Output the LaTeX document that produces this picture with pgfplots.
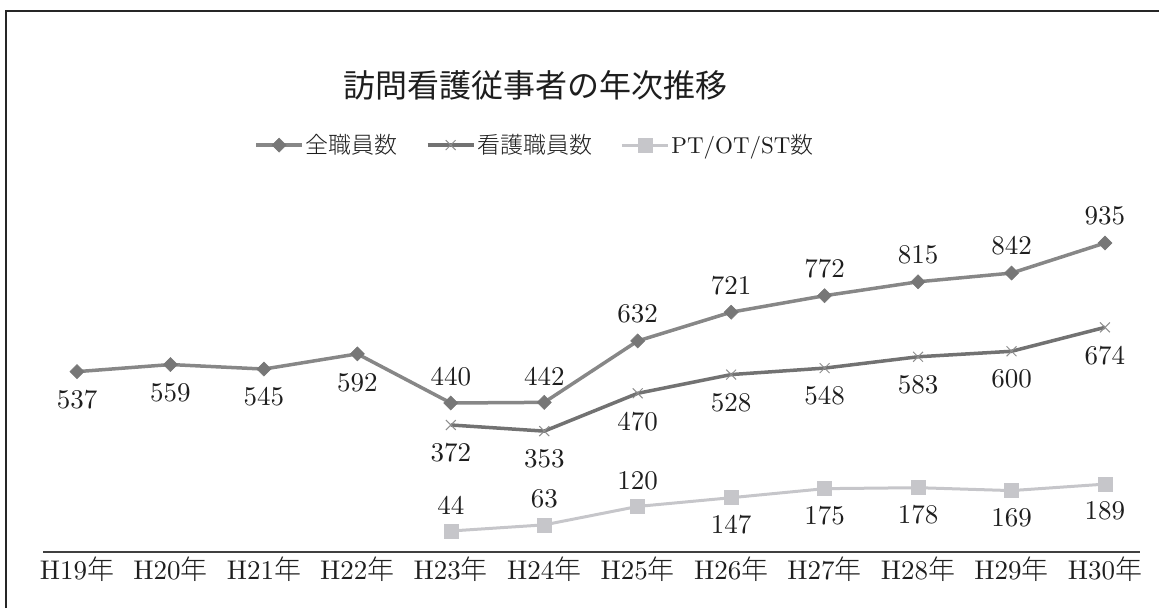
\documentclass[border=0pt]{standalone}
\usepackage{fontspec}
\setmainfont{lmroman10-regular}[Extension=.otf]
\usepackage{pgfplots}
\pgfplotsset{compat=1.18}
\usepackage{pgfplotstable}
\newfontfamily\cjk{Noto Sans CJK JP}
\newfontfamily\cjkl{Noto Sans CJK JP Light}
\definecolor{lineA}{HTML}{878787}
\definecolor{markA}{HTML}{777777}
\definecolor{lineB}{HTML}{727272}
\definecolor{markB}{HTML}{8E8E8E}
\definecolor{lineC}{HTML}{C6C6CA}
\definecolor{txt}{HTML}{1E1E1E}

\pgfplotstableread{
x y dy
0 537 -28
1 559 -28
2 545 -28
3 592 -29
4 440 26
5 442 26
6 632 27
7 721 27
8 772 27
9 815 27
10 842 27
11 935 27
}\tabAll
\pgfplotstableread{
x y dy
4 372 -28
5 353 -28
6 470 -28
7 528 -28
8 548 -28
9 583 -28
10 600 -28
11 674 -28
}\tabNurse
\pgfplotstableread{
x y dy
4 44 26
5 63 26
6 120 26
7 147 -27
8 175 -27
9 178 -27
10 169 -27
11 189 -27
}\tabPT

\begin{document}
\begin{tikzpicture}
\path[use as bounding box] (0pt,0pt) rectangle (1159pt,-608pt);
\draw[line width=2.5pt, color=black!85] (6pt,-608pt) -- (6pt,-11pt) -- (1159pt,-11pt);
\node[font=\cjk\fontsize{32}{36}\selectfont, text=txt] at (535pt,-85pt) {訪問看護従事者の年次推移};
\begin{axis}[
  at={(43pt,-552pt)}, anchor=south west,
  scale only axis, width=1097pt, height=330pt,
  xmin=-0.364, xmax=11.375, ymin=-21, ymax=1000,
  /pgf/number format/assume math mode=true,
  axis y line=none, axis x line*=bottom,
  axis line style={-, draw=black!75, line width=1.5pt},
  xtick={0,...,11},
  xticklabels={H19{\cjkl 年},H20{\cjkl 年},H21{\cjkl 年},H22{\cjkl 年},H23{\cjkl 年},H24{\cjkl 年},H25{\cjkl 年},H26{\cjkl 年},H27{\cjkl 年},H28{\cjkl 年},H29{\cjkl 年},H30{\cjkl 年}},
  xtick style={draw=none}, major tick length=0pt,
  xticklabel style={font=\fontsize{27}{30}\selectfont, text=txt, yshift=-1pt},
  clip=false,
  legend columns=3,
  legend cell align=left,
  legend style={at={(axis description cs:0.4485,1.233)}, anchor=center, draw=none, fill=none,
    font=\fontsize{23}{27}\selectfont, text=txt,
    /tikz/every even column/.append style={column sep=26pt}},
  legend image code/.code={\draw[mark repeat=2,mark phase=2,#1] plot coordinates {(0pt,0pt) (23pt,0pt) (46pt,0pt)};},
  nodes near coords,
  visualization depends on={\thisrow{dy} \as \dy},
  every node near coord/.append style={anchor=center, yshift=\dy pt, font=\fontsize{27}{30}\selectfont, text=txt},
]
\addplot[color=lineA, line width=3.5pt, mark=square*, mark size=5pt,
  mark options={rotate=45, fill=markA, draw=markA, line width=0.5pt}]
  table[x=x, y=y] {\tabAll};
\addlegendentry{\cjkl 全職員数}
\addplot[color=lineB, line width=3.5pt, mark=x, mark size=7pt,
  mark options={draw=markB, line width=1pt}]
  table[x=x, y=y] {\tabNurse};
\addlegendentry{\cjkl 看護職員数}
\addplot[color=lineC, line width=3pt, mark=square*, mark size=7pt,
  mark options={fill=lineC, draw=lineC, line width=0.5pt}]
  table[x=x, y=y] {\tabPT};
\addlegendentry{PT/OT/ST{\cjkl 数}}
\end{axis}
\end{tikzpicture}
\end{document}
